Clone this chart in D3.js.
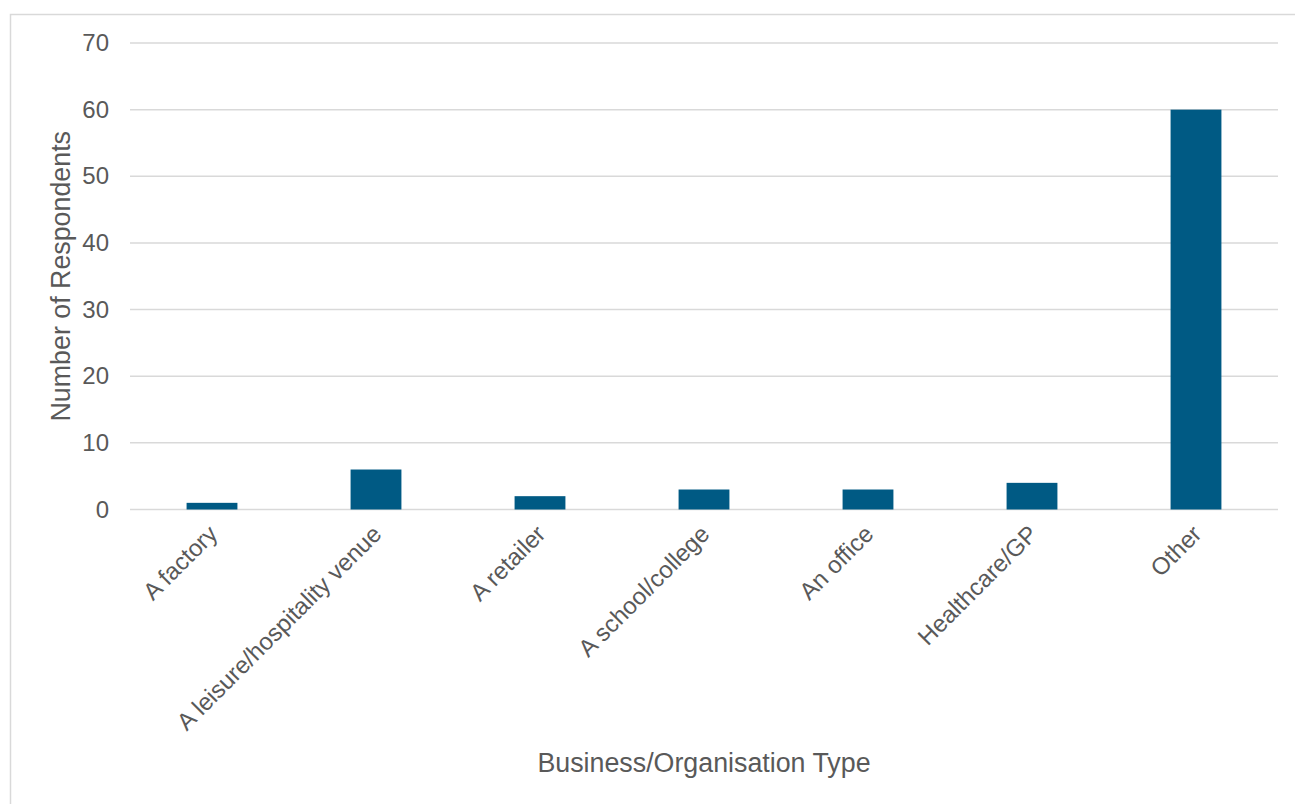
<!DOCTYPE html>
<html>
<head>
<meta charset="utf-8">
<script src="https://cdn.jsdelivr.net/npm/d3@7"></script>
<style>
  html, body { margin: 0; padding: 0; background: #fff; }
  svg { display: block; }
  text { font-family: "Liberation Sans", Arial, sans-serif; fill: #595959; }
</style>
</head>
<body>
<svg id="chart" width="1295" height="804"></svg>
<script>
// Respondents by business / organisation type
const categories = [
  "A factory",
  "A leisure/hospitality venue",
  "A retailer",
  "A school/college",
  "An office",
  "Healthcare/GP",
  "Other"
];
const respondents = [1, 6, 2, 3, 3, 4, 60];
const yTicks = [0, 10, 20, 30, 40, 50, 60, 70];
const xTitle = "Business/Organisation Type";
const yTitle = "Number of Respondents";

const W = 1295, H = 804;
const margin = { left: 130, right: 17, top: 43, bottom: 294.5 };
const FONT = "'Liberation Sans', Arial, sans-serif";

const svg = d3.select("#chart");

// chart frame
svg.append("rect")
  .attr("x", 10.5).attr("y", 14.5)
  .attr("width", 1300).attr("height", 820)
  .attr("fill", "#fff")
  .attr("stroke", "#d9d9d9")
  .attr("stroke-width", 1.5);

const x = d3.scaleBand()
  .domain(categories)
  .range([margin.left, W - margin.right])
  .paddingInner(0.69)
  .paddingOuter(0.345);

const y = d3.scaleLinear()
  .domain([0, 70])
  .range([H - margin.bottom, margin.top]);

// gridlines
svg.append("g")
  .selectAll("line")
  .data(yTicks)
  .join("line")
  .attr("x1", margin.left).attr("x2", W - margin.right)
  .attr("y1", d => y(d)).attr("y2", d => y(d))
  .attr("stroke", "#d9d9d9")
  .attr("stroke-width", 1.5);

// y axis labels
const yAxis = d3.axisLeft(y).tickValues(yTicks).tickSize(0).tickPadding(21);
const yg = svg.append("g")
  .attr("transform", `translate(${margin.left},0)`)
  .call(yAxis);
yg.select(".domain").remove();
yg.selectAll("text")
  .attr("font-size", 24)
  .style("font-family", FONT)
  .attr("fill", "#595959");

// bars
svg.append("g")
  .selectAll("rect")
  .data(categories)
  .join("rect")
  .attr("x", d => x(d))
  .attr("width", x.bandwidth())
  .attr("y", (d, i) => y(respondents[i]))
  .attr("height", (d, i) => y(0) - y(respondents[i]))
  .attr("fill", "#005a84");

// x axis labels, rotated
const xAxis = d3.axisBottom(x).tickSize(0).tickPadding(0);
const xg = svg.append("g")
  .attr("transform", `translate(0,${y(0)})`)
  .call(xAxis);
xg.select(".domain").remove();
xg.selectAll("text")
  .attr("font-size", 24)
  .style("font-family", FONT)
  .attr("fill", "#595959")
  .attr("text-anchor", "end")
  .attr("dy", null)
  .attr("y", 0)
  .attr("transform", "translate(7,26) rotate(-45)");

// axis titles
svg.append("text")
  .attr("x", (margin.left + W - margin.right) / 2)
  .attr("y", 772)
  .attr("text-anchor", "middle")
  .attr("font-size", 26.8)
  .text(xTitle);

svg.append("text")
  .attr("transform", `translate(70,${y(35)}) rotate(-90)`)
  .attr("text-anchor", "middle")
  .attr("font-size", 26.8)
  .text(yTitle);
</script>
</body>
</html>
